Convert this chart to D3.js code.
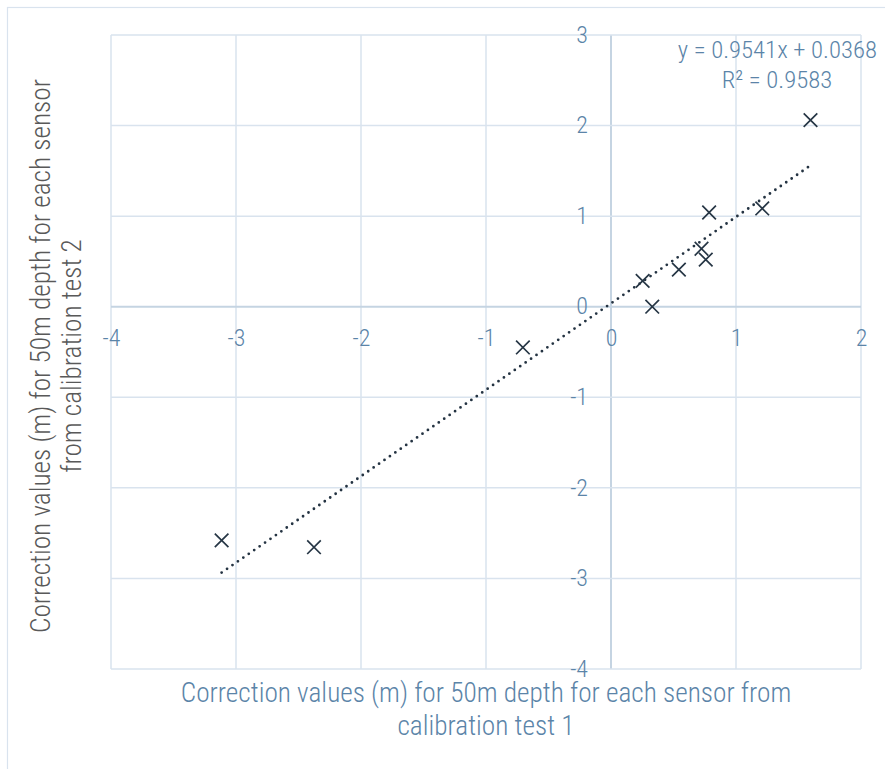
<!DOCTYPE html>
<html><head><meta charset="utf-8">
<script src="https://cdn.jsdelivr.net/npm/d3@7/dist/d3.min.js"></script>
<style>
html,body{margin:0;padding:0;background:#fff;}
text{font-family:"Roboto Condensed","Liberation Sans Narrow","Arial Narrow",Roboto,sans-serif;font-weight:300;}
</style></head>
<body><svg id="c" width="885" height="769"></svg>
<script>
const xTicks = [-4,-3,-2,-1,0,1,2];
const yTicks = [-4,-3,-2,-1,0,1,2,3];
const xValues = [1.596,0.785,1.21,0.724,0.758,0.543,0.253,0.33,-0.705,-3.115,-2.376];
const yValues = [2.06,1.04,1.085,0.64,0.52,0.41,0.285,0.0,-0.45,-2.58,-2.655];
const slope = 0.9541, intercept = 0.0368;
const equationLines = ["y = 0.9541x + 0.0368","R² = 0.9583"];
const xTitle = ["Correction values (m) for 50m depth for each sensor from","calibration test 1"];
const yTitle = ["Correction values (m) for 50m depth for each sensor","from calibration test 2"];

const svg = d3.select("#c");
const blue = "#5b84a8", grid = "#d9e3ee", axisCol = "#c5d4e2", mark = "#263645";
// outer frame
svg.append("rect").attr("x",7.5).attr("y",7.5).attr("width",890).attr("height",790)
  .attr("fill","none").attr("stroke","#d9e3ee").attr("stroke-width",1.2);

const x = d3.scaleLinear().domain([-4,2]).range([111,861]);
const y = d3.scaleLinear().domain([-4,3]).range([669,35]);

// grid
const g = svg.append("g");
g.selectAll("line.v").data(xTicks).join("line")
  .attr("x1",d=>x(d)).attr("x2",d=>x(d)).attr("y1",y(3)).attr("y2",y(-4))
  .attr("stroke",d=>d===0?axisCol:grid).attr("stroke-width",d=>d===0?2:1.5);
g.selectAll("line.h").data(yTicks).join("line")
  .attr("y1",d=>y(d)).attr("y2",d=>y(d)).attr("x1",x(-4)).attr("x2",x(2))
  .attr("stroke",d=>d===0?axisCol:grid).attr("stroke-width",d=>d===0?2:1.5);

// axes labels via d3 axes
const fmt = d => String(d);
const xAxis = svg.append("g").attr("transform",`translate(0,${y(0)})`)
  .call(d3.axisBottom(x).tickValues(xTicks).tickSize(0).tickFormat(fmt));
const yAxis = svg.append("g").attr("transform",`translate(${x(0)},0)`)
  .call(d3.axisLeft(y).tickValues(yTicks).tickSize(0).tickPadding(23).tickFormat(fmt));
[xAxis,yAxis].forEach(a=>{
  a.select(".domain").remove();
  a.selectAll("text").attr("fill",blue).style("font-size","24px");
});
xAxis.selectAll("text").attr("dy","0.35em").attr("y",31);
yAxis.selectAll("text").attr("dy","0.3em");

// trendline
const xmin = d3.min(xValues), xmax = d3.max(xValues);
svg.append("line")
  .attr("x1",x(xmin)).attr("y1",y(slope*xmin+intercept))
  .attr("x2",x(xmax)).attr("y2",y(slope*xmax+intercept))
  .attr("stroke","#243342").attr("stroke-width",2.8)
  .attr("stroke-linecap","round").attr("stroke-dasharray","0 6.6");

// markers
const pts = xValues.map((v,i)=>[v,yValues[i]]);
const s = 6.8;
const m = svg.append("g").selectAll("g").data(pts).join("g")
  .attr("transform",d=>`translate(${x(d[0])},${y(d[1])})`);
m.append("path").attr("d",`M${-s},${-s}L${s},${s}M${-s},${s}L${s},${-s}`)
  .attr("stroke",mark).attr("stroke-width",1.7).attr("fill","none");

// equation
svg.append("text").attr("x",877).attr("y",58).attr("text-anchor","end")
  .attr("fill",blue).style("font-size","24.7px").text(equationLines[0]);
svg.append("text").attr("x",777).attr("y",88).attr("text-anchor","middle")
  .attr("fill",blue).style("font-size","24.7px").text(equationLines[1]);

// x title
svg.selectAll("text.xt").data(xTitle).join("text").attr("class","xt")
  .attr("x",486).attr("y",(d,i)=>702+i*33).attr("text-anchor","middle")
  .attr("fill",blue).style("font-size","27.3px").text(d=>d);
// y title
svg.selectAll("text.yt").data(yTitle).join("text").attr("class","yt")
  .attr("transform",(d,i)=>`translate(${50+i*31},356) rotate(-90)`).attr("text-anchor","middle")
  .attr("fill","#595959").style("font-size","27.3px").text(d=>d);
</script></body></html>
